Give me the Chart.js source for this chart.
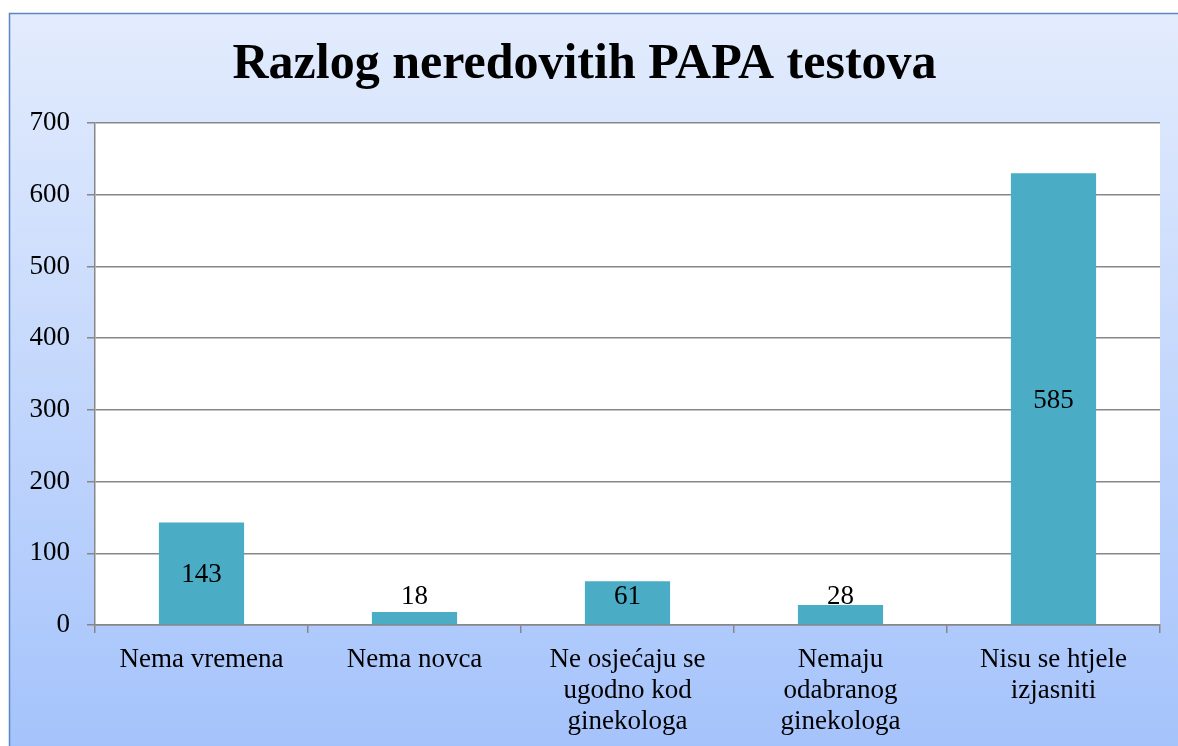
<!DOCTYPE html>
<html>
<head>
<meta charset="utf-8">
<script src="https://cdn.jsdelivr.net/npm/chart.js@4/dist/chart.umd.min.js"></script>
<style>
	html, body { margin: 0; padding: 0; background: #fff; }
	#wrap { width: 1178px; height: 746px; }
</style>
</head>
<body>
<div id="wrap"><canvas id="chart" width="1178" height="746"></canvas></div>
<script>
const categories = [
	'Nema vremena',
	'Nema novca',
	['Ne osjećaju se', 'ugodno kod', 'ginekologa'],
	['Nemaju', 'odabranog', 'ginekologa'],
	['Nisu se htjele', 'izjasniti']
]
// bar heights as drawn in the picture
const values = [143, 18, 61, 28, 630]
// numbers printed on the bars
const valueLabels = ['143', '18', '61', '28', '585']
const yTicks = [0, 100, 200, 300, 400, 500, 600, 700]

const FONT = '"Liberation Serif", serif'

const frame = {
	id: 'frame',
	beforeDraw(chart) {
		const { ctx, chartArea } = chart
		ctx.save()
		const g = ctx.createLinearGradient(0, 13, 0, chart.height)
		g.addColorStop(0, '#e3ecfd')
		g.addColorStop(1, '#a5c3fb')
		ctx.fillStyle = g
		ctx.fillRect(9, 13, chart.width, chart.height)
		ctx.strokeStyle = '#5a86c2'
		ctx.lineWidth = 1.5
		ctx.beginPath()
		ctx.moveTo(9.5, chart.height)
		ctx.lineTo(9.5, 13.5)
		ctx.lineTo(chart.width, 13.5)
		ctx.stroke()
		ctx.fillStyle = '#ffffff'
		ctx.fillRect(chartArea.left, chartArea.top, chartArea.right - chartArea.left, chartArea.bottom - chartArea.top)
		ctx.restore()
	}
}

const barLabels = {
	id: 'barLabels',
	afterDatasetsDraw(chart) {
		const { ctx } = chart
		const meta = chart.getDatasetMeta(0)
		ctx.save()
		ctx.font = '27px ' + FONT
		ctx.fillStyle = '#000'
		ctx.textAlign = 'center'
		ctx.textBaseline = 'middle'
		meta.data.forEach((bar, i) => {
			const mid = (bar.y + bar.base) / 2
			const y = Math.min(mid + 2, bar.base - 27)
			ctx.fillText(valueLabels[i], bar.x, y)
		})
		ctx.restore()
	}
}

new Chart(document.getElementById('chart'), {
	type: 'bar',
	data: {
		labels: categories,
		datasets: [{
			data: values,
			backgroundColor: '#4bacc6',
			borderColor: '#4bacc6',
			borderWidth: 0,
			barPercentage: 0.4,
			categoryPercentage: 1
		}]
	},
	options: {
		responsive: false,
		animation: false,
		layout: { padding: { left: 9, top: 13, right: 18, bottom: 0 } },
		plugins: {
			legend: { display: false },
			tooltip: { enabled: false },
			title: {
				display: true,
				text: 'Razlog neredovitih PAPA testova',
				color: '#000',
				font: { family: FONT, size: 50, weight: 'bold', lineHeight: 1.2 },
				padding: { top: 22, bottom: 28 }
			}
		},
		scales: {
			x: {
				grid: { offset: true, drawOnChartArea: false, tickLength: 8, color: '#878787', lineWidth: 1.5 },
				border: { color: '#878787', width: 1.5 },
				ticks: { color: '#000', font: { family: FONT, size: 27, lineHeight: 1.15 }, padding: 11, maxRotation: 0, autoSkip: false },
				afterFit(axis) { axis.height = 121 }
			},
			y: {
				min: 0,
				max: 700,
				afterBuildTicks(axis) { axis.ticks = yTicks.map((v) => ({ value: v })) },
				grid: { tickLength: 8, color: '#878787', lineWidth: 1.5 },
				border: { color: '#878787', width: 1.5 },
				ticks: { color: '#000', font: { family: FONT, size: 27 }, padding: 17 },
				afterFit(axis) { axis.width = 86 }
			}
		}
	},
	plugins: [frame, barLabels]
})
</script>
</body>
</html>
